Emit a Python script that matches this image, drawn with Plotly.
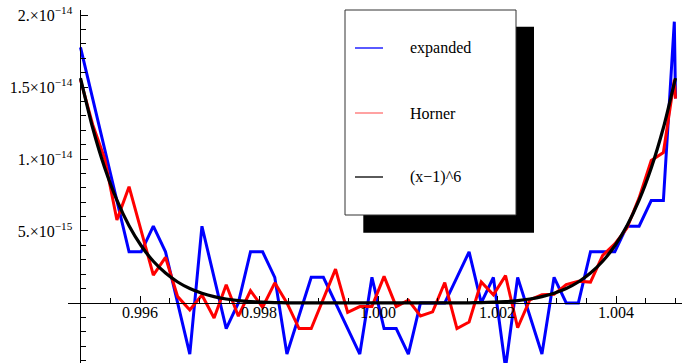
import plotly.graph_objects as go

# ---------------- data (values in units of 1e-15) ----------------
SCALE = 1e-15

x_grid = [0.995000, 0.995204, 0.995408, 0.995612, 0.995816, 0.996020, 0.996224, 0.996429,
          0.996633, 0.996837, 0.997041, 0.997245, 0.997449, 0.997653, 0.997857, 0.998061,
          0.998265, 0.998469, 0.998673, 0.998878, 0.999082, 0.999286, 0.999490, 0.999694,
          0.999898, 1.000102, 1.000306, 1.000510, 1.000714, 1.000918, 1.001122, 1.001327,
          1.001531, 1.001735, 1.001939, 1.002143, 1.002347, 1.002551, 1.002755, 1.002959,
          1.003163, 1.003367, 1.003571, 1.003776, 1.003980, 1.004184, 1.004388, 1.004592,
          1.004796, 1.005000]

x_noisy = [0.995000, 0.995204, 0.995408, 0.995612, 0.995816, 0.996020, 0.996224, 0.996429,
           0.996633, 0.996837, 0.997041, 0.997245, 0.997449, 0.997653, 0.997857, 0.998061,
           0.998265, 0.998469, 0.998673, 0.998878, 0.999082, 0.999286, 0.999490, 0.999694,
           0.999898, 1.000102, 1.000306, 1.000510, 1.000714, 1.000918, 1.001122, 1.001327,
           1.001531, 1.001735, 1.001939, 1.002143, 1.002347, 1.002551, 1.002755, 1.002959,
           1.003163, 1.003367, 1.003571, 1.003776, 1.003980, 1.004184, 1.004388, 1.004592,
           1.004796, 1.004980, 1.005000]

expanded = [17.76, 14.21, 10.66, 7.11, 3.55, 3.55, 5.33, 3.55, 0.0, -3.55,
            5.33, 1.78, -1.78, 0.0, 3.55, 3.55, 1.78, -3.55, -0.89, 1.78,
            1.78, 0.0, -1.78, -3.55, 1.78, -1.78, -1.78, -3.55, 0.0, 0.0,
            0.0, 1.78, 3.55, 0.0, 1.78, -4.5, 1.78, -0.89, -3.55, 1.78,
            0.0, 0.0, 3.55, 3.55, 3.55, 5.33, 5.33, 7.11, 7.11, 19.54, 14.21]

horner = [15.5, 12.4, 10.0, 5.76, 8.08, 5.0, 1.94, 3.17, 0.44, -0.49,
          0.55, -1.04, 1.27, -0.92, 0.85, -0.3, 1.4, 0.0, -1.78, -1.78,
          0.3, 2.35, -0.65, -0.25, -0.25, 1.85, -0.25, 0.2, -0.9, -0.62,
          1.42, -1.78, -1.32, 1.46, 0.56, 1.9, -1.72, 0.22, 0.57, 0.6,
          1.28, 1.5, 1.45, 3.3, 4.1, 5.2, 7.3, 9.9, 10.45, 15.5, 14.2]

exact = [15.625, 12.168, 9.374, 7.136, 5.362, 3.972, 2.896, 2.075, 1.458, 1.002,
         0.672, 0.437, 0.276, 0.167, 0.097, 0.053, 0.027, 0.013, 0.005, 0.002,
         0.001, 0.0, 0.0, 0.0, 0.0, 0.0, 0.0, 0.0, 0.0, 0.001,
         0.002, 0.005, 0.013, 0.027, 0.053, 0.097, 0.167, 0.276, 0.437, 0.672,
         1.002, 1.458, 2.075, 2.896, 3.972, 5.362, 7.136, 9.374, 12.168, 15.625]

series_names = ["expanded", "Horner", "(x\u22121)^6"]

x_tickvals = [0.996, 0.998, 1.000, 1.002, 1.004]
x_ticktext = ["0.996", "0.998", "1.000", "1.002", "1.004"]
x_minorvals = [0.9955, 0.9965, 0.997, 0.9975, 0.9985, 0.999, 0.9995,
               1.0005, 1.001, 1.0015, 1.0025, 1.003, 1.0035, 1.0045, 1.005]

y_tickvals = [5e-15, 1e-14, 1.5e-14, 2e-14]
y_ticktext = ["5.\u00d710<sup>\u221215</sup>", "1.\u00d710<sup>\u221214</sup>",
              "1.5\u00d710<sup>\u221214</sup>", "2.\u00d710<sup>\u221214</sup>"]
y_minorvals = [-4e-15, -3e-15, -2e-15, -1e-15, 1e-15, 2e-15, 3e-15, 4e-15,
               6e-15, 7e-15, 8e-15, 9e-15, 11e-15, 12e-15, 13e-15, 14e-15,
               16e-15, 17e-15, 18e-15, 19e-15]

# ---------------- layout geometry ----------------
W, H = 682, 363
ML, MR, MT, MB = 68, 0, 10, 0
XR = [0.99479, 1.005109]
YR = [-4.17e-15, 20.35e-15]

FONT = "Liberation Serif, Times New Roman, serif"

def px(xp):
    return (xp - ML) / (W - ML - MR)

def py(yp):
    return (H - MB - yp) / (H - MT - MB)

fig = go.Figure()
colors = ["#0000ff", "#ff0000", "#000000"]
fig.add_trace(go.Scatter(x=x_noisy, y=[v * SCALE for v in expanded], mode="lines",
                         line=dict(color=colors[0], width=3), name=series_names[0]))
fig.add_trace(go.Scatter(x=x_noisy, y=[v * SCALE for v in horner], mode="lines",
                         line=dict(color=colors[1], width=3), name=series_names[1]))
fig.add_trace(go.Scatter(x=x_grid, y=[v * SCALE for v in exact], mode="lines",
                         line=dict(color=colors[2], width=3.2, shape="spline", smoothing=0.6),
                         name=series_names[2]))

y0_pos = (0 - YR[0]) / (YR[1] - YR[0])
x0_pos = (0.995 - XR[0]) / (XR[1] - XR[0])

fig.update_layout(
    width=W, height=H, margin=dict(l=ML, r=MR, t=MT, b=MB, pad=0),
    paper_bgcolor="white", plot_bgcolor="white", showlegend=False,
    font=dict(family=FONT, size=16, color="black"),
    xaxis=dict(range=XR, anchor="free", position=y0_pos, showgrid=False, zeroline=False,
               showline=True, linecolor="black", linewidth=1,
               tickmode="array", tickvals=x_tickvals, ticktext=x_ticktext,
               ticks="inside", ticklen=7, tickwidth=1, tickcolor="black",
               ticklabelstandoff=-5,
               minor=dict(tickmode="array", tickvals=x_minorvals, ticks="inside",
                          ticklen=4.5, tickwidth=1, tickcolor="black", showgrid=False),
               tickfont=dict(family=FONT, size=16)),
    yaxis=dict(range=YR, anchor="free", position=x0_pos, showgrid=False, zeroline=False,
               showline=True, linecolor="black", linewidth=1,
               tickmode="array", tickvals=y_tickvals, ticktext=y_ticktext,
               ticks="inside", ticklen=7, tickwidth=1, tickcolor="black",
               ticklabelstandoff=5,
               minor=dict(tickmode="array", tickvals=y_minorvals, ticks="inside",
                          ticklen=4.5, tickwidth=1, tickcolor="black", showgrid=False),
               tickfont=dict(family=FONT, size=16)),
)

# ---------------- custom legend with drop shadow ----------------
shapes = []
shapes.append(dict(type="rect", xref="paper", yref="paper", layer="above",
                   x0=px(363.3), x1=px(534), y0=py(232.7), y1=py(26.7),
                   fillcolor="black", line=dict(width=0)))
shapes.append(dict(type="rect", xref="paper", yref="paper", layer="above",
                   x0=px(345), x1=px(516), y0=py(215), y1=py(10),
                   fillcolor="white", line=dict(color="#333333", width=1)))
legend_colors = ["#0000ff", "#ff7070", "#000000"]
legend_rows = [48, 113, 177]
annotations = []
for name, col, row in zip(series_names, legend_colors, legend_rows):
    shapes.append(dict(type="line", xref="paper", yref="paper", layer="above",
                       x0=px(355), x1=px(383), y0=py(row), y1=py(row),
                       line=dict(color=col, width=1.3)))
    annotations.append(dict(xref="paper", yref="paper", x=px(408), y=py(row),
                            xanchor="left", yanchor="middle", showarrow=False,
                            text=name, font=dict(family=FONT, size=16, color="black")))
fig.update_layout(shapes=shapes, annotations=annotations)

fig.write_html("out.html", config={"displayModeBar": False},
               post_script="document.body.style.margin='0';document.body.style.padding='0';")
